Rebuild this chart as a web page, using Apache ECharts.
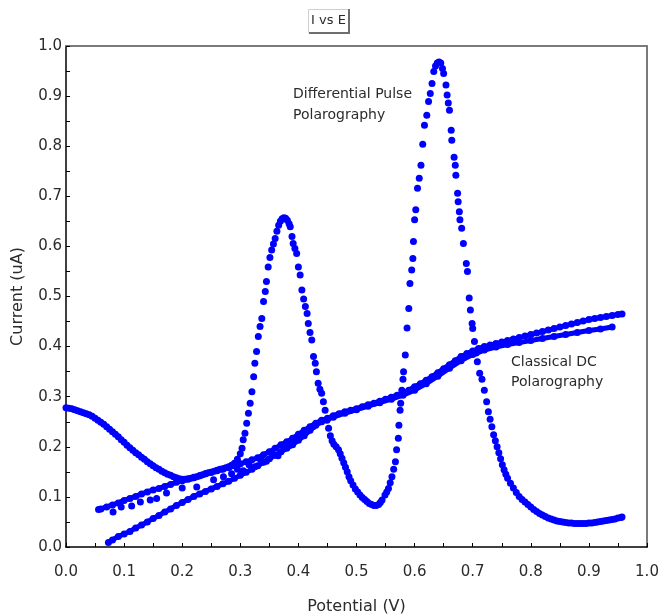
<!DOCTYPE html>
<html>
<head>
<meta charset="utf-8">
<script src="https://cdn.jsdelivr.net/npm/echarts@6/dist/echarts.min.js"></script>
<style>
  html, body { margin: 0; padding: 0; background: #ffffff; }
  #chart { width: 661px; height: 614px; }
</style>
</head>
<body>
<div id="chart"></div>
<script>
// Axis ranges and tick labels
const xTickLabels = ['0.0','0.1','0.2','0.3','0.4','0.5','0.6','0.7','0.8','0.9','1.0'];
const yTickLabels = ['0.0','0.1','0.2','0.3','0.4','0.5','0.6','0.7','0.8','0.9','1.0'];

// Differential pulse polarogram: [potential V, current uA]
const dppPoints = [
  [0.000,0.278],[0.005,0.277],[0.010,0.276],[0.015,0.274],[0.020,0.272],[0.025,0.270],[0.030,0.268],
  [0.035,0.266],[0.040,0.264],[0.045,0.261],[0.050,0.257],[0.055,0.253],[0.060,0.249],[0.065,0.245],
  [0.070,0.240],[0.075,0.235],[0.080,0.230],[0.085,0.225],[0.090,0.220],[0.095,0.214],[0.100,0.209],
  [0.105,0.203],[0.110,0.198],[0.115,0.193],[0.120,0.188],[0.125,0.184],[0.130,0.179],[0.135,0.175],
  [0.140,0.170],[0.145,0.166],[0.150,0.162],[0.155,0.158],[0.160,0.155],[0.165,0.151],[0.170,0.148],
  [0.175,0.145],[0.180,0.143],[0.185,0.140],[0.190,0.138],[0.195,0.136],[0.200,0.135],[0.205,0.135],
  [0.210,0.136],[0.215,0.137],[0.220,0.139],[0.225,0.140],[0.230,0.142],[0.235,0.144],[0.240,0.146],
  [0.245,0.148],[0.250,0.149],[0.255,0.151],[0.260,0.153],[0.265,0.155],[0.270,0.156],[0.275,0.158],
  [0.280,0.160],[0.285,0.163],[0.290,0.167],[0.295,0.175],[0.300,0.186],
  [0.303,0.197],[0.305,0.214],[0.308,0.227],[0.311,0.247],[0.314,0.267],[0.317,0.287],[0.320,0.310],
  [0.323,0.340],[0.325,0.367],[0.328,0.390],[0.331,0.420],[0.334,0.440],[0.337,0.456],[0.340,0.490],
  [0.343,0.510],[0.345,0.530],[0.348,0.559],[0.351,0.578],[0.354,0.593],[0.357,0.605],[0.360,0.616],
  [0.363,0.630],[0.366,0.642],[0.369,0.650],[0.372,0.655],[0.375,0.657],[0.378,0.656],[0.381,0.652],
  [0.384,0.645],[0.386,0.639],[0.389,0.620],[0.391,0.606],[0.394,0.596],[0.397,0.586],[0.400,0.559],
  [0.403,0.543],[0.406,0.513],[0.409,0.495],[0.412,0.480],[0.415,0.466],[0.417,0.446],[0.420,0.428],
  [0.423,0.413],[0.426,0.380],[0.429,0.367],[0.431,0.350],[0.434,0.327],[0.437,0.315],[0.440,0.307],
  [0.443,0.290],[0.446,0.273],[0.449,0.253],[0.452,0.237],[0.455,0.222],[0.458,0.212],[0.461,0.205],
  [0.465,0.200],[0.469,0.194],[0.472,0.186],[0.475,0.177],[0.478,0.168],[0.481,0.159],[0.484,0.150],
  [0.487,0.140],[0.490,0.132],[0.494,0.124],[0.498,0.116],[0.502,0.110],[0.506,0.104],[0.510,0.099],
  [0.514,0.095],[0.518,0.091],[0.522,0.087],[0.526,0.085],[0.530,0.083],[0.534,0.083],[0.538,0.085],
  [0.541,0.089],[0.544,0.094],[0.549,0.104],[0.552,0.110],[0.555,0.117],[0.558,0.128],[0.561,0.140],
  [0.564,0.155],[0.567,0.170],[0.569,0.194],[0.572,0.217],[0.573,0.243],[0.575,0.273],[0.576,0.287],
  [0.578,0.313],[0.580,0.335],[0.581,0.350],[0.584,0.383],[0.587,0.437],[0.590,0.476],[0.592,0.526],
  [0.595,0.553],[0.597,0.576],[0.598,0.610],[0.600,0.653],[0.602,0.673],[0.605,0.716],[0.608,0.736],
  [0.611,0.762],[0.614,0.804],[0.617,0.842],[0.621,0.862],[0.624,0.889],[0.627,0.905],[0.630,0.925],
  [0.633,0.949],[0.636,0.960],[0.639,0.966],[0.642,0.968],[0.645,0.966],[0.648,0.955],[0.650,0.945],
  [0.654,0.922],[0.656,0.902],[0.658,0.886],[0.660,0.872],[0.663,0.832],[0.664,0.812],[0.668,0.778],
  [0.670,0.762],[0.671,0.742],[0.674,0.706],[0.675,0.689],[0.677,0.669],[0.678,0.653],[0.681,0.636],
  [0.684,0.606],[0.689,0.566],[0.691,0.550],[0.694,0.497],[0.696,0.473],[0.699,0.446],[0.700,0.436],
  [0.703,0.410],[0.706,0.387],[0.708,0.370],[0.712,0.347],[0.716,0.335],[0.720,0.313],[0.724,0.290],
  [0.727,0.270],[0.730,0.255],[0.733,0.240],[0.736,0.224],[0.739,0.212],[0.742,0.200],[0.745,0.188],
  [0.748,0.176],[0.751,0.164],[0.754,0.154],[0.757,0.145],[0.760,0.137],[0.765,0.127],[0.770,0.118],
  [0.775,0.109],[0.780,0.101],[0.785,0.095],[0.790,0.090],[0.795,0.085],[0.800,0.080],[0.805,0.075],
  [0.810,0.071],[0.815,0.067],[0.820,0.064],[0.825,0.061],[0.830,0.058],[0.835,0.056],[0.840,0.054],
  [0.845,0.052],[0.850,0.051],[0.855,0.050],[0.860,0.049],[0.865,0.048],[0.870,0.048],[0.875,0.047],
  [0.880,0.047],[0.885,0.047],[0.890,0.047],[0.895,0.047],[0.900,0.048],[0.905,0.048],[0.910,0.049],
  [0.915,0.050],[0.920,0.051],[0.925,0.052],[0.930,0.053],[0.935,0.054],[0.940,0.055],[0.945,0.056],
  [0.950,0.058],[0.955,0.059],[0.957,0.060]
];

// Classical DC polarogram, upper trace
const dcUpperPoints = [
  [0.056,0.075],[0.060,0.076],[0.070,0.080],[0.080,0.084],[0.090,0.088],[0.100,0.093],[0.110,0.097],
  [0.120,0.101],[0.130,0.106],[0.140,0.110],[0.150,0.114],[0.160,0.117],[0.170,0.121],[0.180,0.125],
  [0.190,0.129],[0.200,0.132],[0.210,0.135],[0.220,0.138],[0.230,0.142],[0.240,0.146],[0.250,0.149],
  [0.260,0.152],[0.270,0.155],[0.280,0.158],[0.290,0.162],[0.300,0.166],[0.310,0.170],[0.320,0.174],
  [0.330,0.178],[0.340,0.184],[0.350,0.190],[0.360,0.197],[0.370,0.204],[0.380,0.210],[0.390,0.217],
  [0.400,0.225],[0.410,0.233],[0.420,0.240],[0.430,0.247],[0.440,0.253],[0.450,0.257],[0.460,0.262],
  [0.470,0.266],[0.480,0.270],[0.490,0.273],[0.500,0.276],[0.510,0.280],[0.520,0.284],[0.530,0.287],
  [0.540,0.291],[0.550,0.295],[0.560,0.299],[0.570,0.303],[0.580,0.307],[0.590,0.313],[0.600,0.320],
  [0.610,0.326],[0.620,0.333],[0.630,0.340],[0.640,0.348],[0.650,0.356],[0.660,0.364],[0.670,0.372],
  [0.680,0.380],[0.690,0.386],[0.700,0.391],[0.710,0.396],[0.720,0.400],[0.730,0.403],[0.740,0.406],
  [0.750,0.409],[0.760,0.412],[0.770,0.415],[0.780,0.418],[0.790,0.421],[0.800,0.424],[0.810,0.427],
  [0.820,0.430],[0.830,0.433],[0.840,0.436],[0.850,0.439],[0.860,0.442],[0.870,0.445],[0.880,0.448],
  [0.890,0.451],[0.900,0.454],[0.910,0.456],[0.920,0.458],[0.930,0.460],[0.940,0.462],[0.950,0.464],
  [0.957,0.465]
];

// Classical DC polarogram, lower trace
const dcLowerPoints = [
  [0.073,0.009],[0.080,0.014],[0.090,0.021],[0.100,0.026],[0.110,0.031],[0.120,0.038],[0.130,0.044],
  [0.140,0.050],[0.150,0.057],[0.160,0.063],[0.170,0.070],[0.180,0.076],[0.190,0.083],[0.200,0.089],
  [0.210,0.095],[0.220,0.101],[0.230,0.106],[0.240,0.111],[0.250,0.116],[0.260,0.121],[0.270,0.126],
  [0.280,0.131],[0.290,0.137],[0.300,0.143],[0.310,0.149],[0.320,0.155],[0.330,0.162],[0.340,0.169],
  [0.350,0.176],[0.360,0.183],[0.370,0.190],[0.380,0.197],[0.390,0.204],[0.400,0.213],[0.410,0.222],
  [0.420,0.233],[0.430,0.243],[0.440,0.250],[0.450,0.255],[0.460,0.259],[0.480,0.267],[0.500,0.274],
  [0.520,0.281],[0.540,0.288],[0.560,0.295],[0.580,0.303],[0.600,0.313],[0.620,0.326],[0.640,0.341],
  [0.660,0.357],[0.680,0.372],[0.700,0.384],[0.720,0.393],[0.740,0.399],[0.760,0.404],[0.780,0.408],
  [0.800,0.412],[0.820,0.416],[0.840,0.420],[0.860,0.424],[0.880,0.428],[0.900,0.432],[0.920,0.435],
  [0.940,0.439]
];

// Stray DC readings lying between the two traces
const dcStrayPoints = [
  [0.081,0.070],[0.095,0.080],[0.113,0.082],[0.128,0.090],[0.145,0.094],[0.156,0.097],[0.173,0.108],
  [0.200,0.118],[0.225,0.120],[0.254,0.134],[0.271,0.140],[0.285,0.146],[0.295,0.155],[0.305,0.152],
  [0.315,0.164],[0.325,0.160],[0.335,0.174],[0.345,0.171],[0.355,0.186],[0.365,0.182],[0.375,0.197],
  [0.385,0.203],[0.395,0.213],[0.405,0.222],[0.415,0.231],[0.425,0.240]
];

const blue = '#0000ff';
const textColor = '#2b2b2b';
const fontFamily = '"DejaVu Sans", Verdana, sans-serif';

const chart = echarts.init(document.getElementById('chart'), null, { renderer: 'canvas' });

const dotSeries = (data, size) => ({
  type: 'scatter',
  data: data,
  symbol: 'circle',
  symbolSize: size,
  itemStyle: { color: blue, opacity: 1 },
  silent: true,
  animation: false
});

const traceSeries = (data) => ({
  type: 'line',
  data: data,
  showSymbol: true,
  symbol: 'circle',
  symbolSize: 7,
  itemStyle: { color: blue, opacity: 1 },
  lineStyle: { color: blue, width: 5, cap: 'round', join: 'round', opacity: 1 },
  silent: true,
  animation: false
});

chart.setOption({
  animation: false,
  backgroundColor: '#ffffff',
  grid: { left: 66, right: 14, top: 46, bottom: 67, containLabel: false, outerBoundsMode: 'none' },
  xAxis: [
    {
      type: 'value', min: 0, max: 1, interval: 0.1, position: 'bottom',
      name: 'Potential (V)', nameLocation: 'middle', nameGap: 52,
      nameTextStyle: { fontSize: 16, color: textColor, fontFamily },
      axisLine: { show: true, onZero: false, lineStyle: { color: '#000', width: 1.5 } },
      axisTick: { show: true, inside: true, length: 4, lineStyle: { color: '#000', width: 1 } },
      minorTick: { show: true, splitNumber: 2, length: 4, lineStyle: { color: '#000', width: 1 } },
      splitLine: { show: false },
      axisLabel: {
        fontSize: 15, color: textColor, fontFamily, margin: 18,
        formatter: (v) => xTickLabels[Math.round(v * 10)]
      }
    },
    {
      type: 'value', min: 0, max: 1, position: 'top',
      axisLine: { show: true, onZero: false, lineStyle: { color: '#7a7a7a', width: 2 } },
      axisTick: { show: false }, axisLabel: { show: false }, splitLine: { show: false }
    }
  ],
  yAxis: [
    {
      type: 'value', min: 0, max: 1, interval: 0.1, position: 'left',
      name: 'Current (uA)', nameLocation: 'middle', nameGap: 40, nameRotate: 90,
      nameTextStyle: { fontSize: 16, color: textColor, fontFamily },
      axisLine: { show: true, onZero: false, lineStyle: { color: '#000', width: 1.5 } },
      axisTick: { show: true, inside: true, length: 4, lineStyle: { color: '#000', width: 1 } },
      minorTick: { show: true, splitNumber: 2, length: 4, lineStyle: { color: '#000', width: 1 } },
      splitLine: { show: false },
      axisLabel: {
        fontSize: 15, color: textColor, fontFamily, margin: 4,
        formatter: (v) => yTickLabels[Math.round(v * 10)]
      }
    },
    {
      type: 'value', min: 0, max: 1, position: 'right',
      axisLine: { show: true, onZero: false, lineStyle: { color: '#7a7a7a', width: 2 } },
      axisTick: { show: false }, axisLabel: { show: false }, splitLine: { show: false }
    }
  ],
  series: [
    traceSeries(dcUpperPoints),
    traceSeries(dcLowerPoints),
    dotSeries(dcStrayPoints, 7),
    dotSeries(dppPoints, 7)
  ],
  graphic: [
    {
      type: 'rect', z: 10,
      shape: { x: 308.5, y: 9.5, width: 40, height: 23 },
      style: { fill: '#ffffff', stroke: '#cfcfcf', lineWidth: 1 }
    },
    {
      type: 'polyline', z: 11,
      shape: { points: [[349, 9], [349, 33], [309, 33]] },
      style: { stroke: '#6e6e6e', lineWidth: 2, fill: null }
    },
    {
      type: 'text', z: 12,
      style: { x: 328.5, y: 21, text: 'I vs E', fontSize: 13, fill: textColor, fontFamily,
               align: 'center', verticalAlign: 'middle' }
    },
    {
      type: 'text',
      style: { x: 293, y: 84, text: 'Differential Pulse\nPolarography', fontSize: 14, lineHeight: 21,
               fill: textColor, fontFamily }
    },
    {
      type: 'text',
      style: { x: 511, y: 352, text: 'Classical DC\nPolarography', fontSize: 14, lineHeight: 20,
               fill: textColor, fontFamily }
    }
  ]
});
</script>
</body>
</html>
